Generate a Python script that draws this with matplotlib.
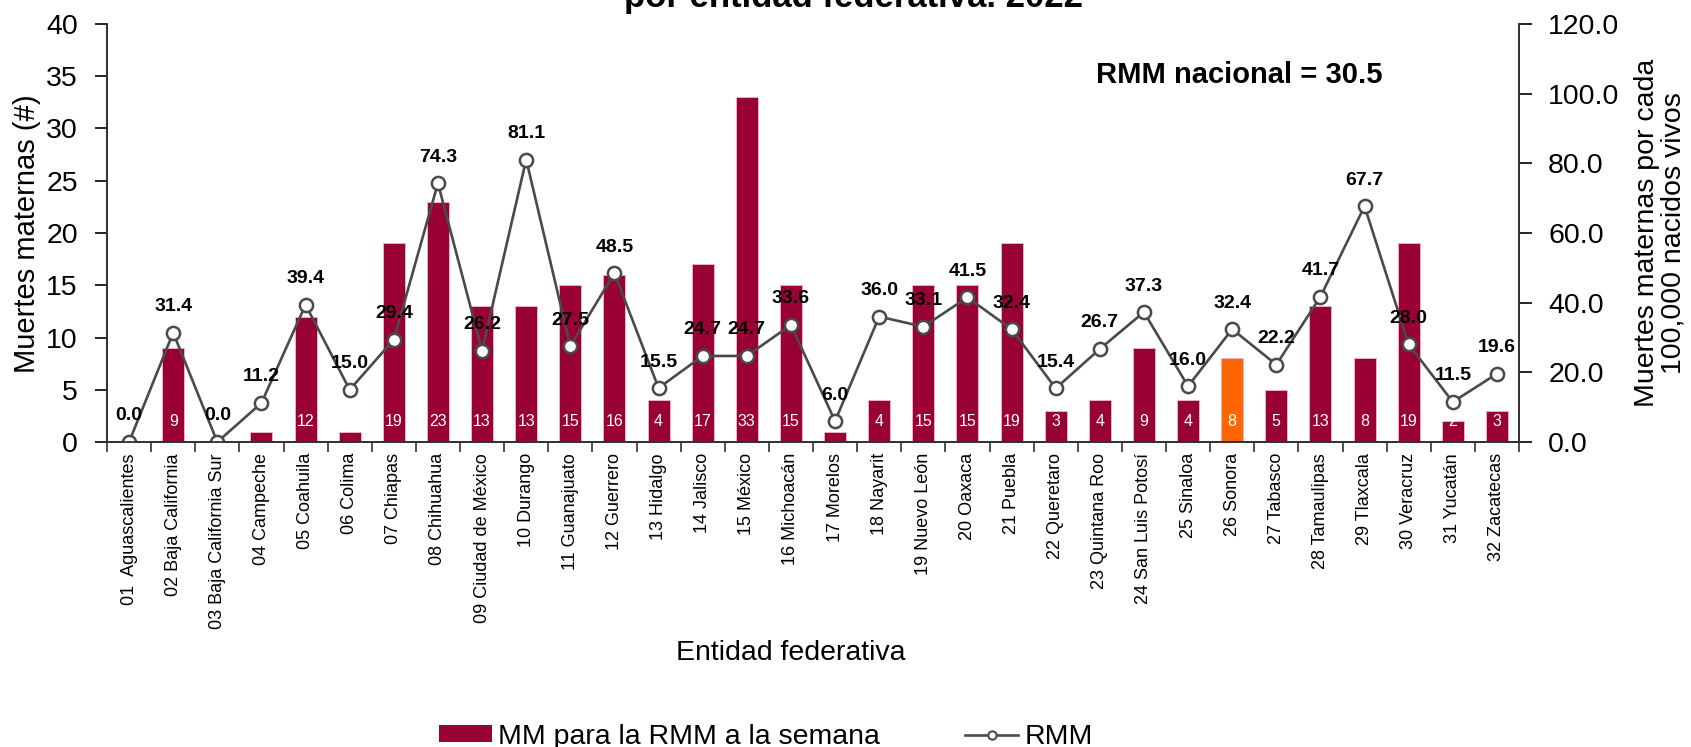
import numpy as np
import matplotlib
matplotlib.use("Agg")
import matplotlib.pyplot as plt
from matplotlib.patches import Patch
from matplotlib.lines import Line2D

plt.rcParams["font.family"] = ["Liberation Sans", "DejaVu Sans"]

STATES = ["01  Aguascalientes", "02 Baja California", "03 Baja California Sur",
          "04 Campeche", "05 Coahuila", "06 Colima", "07 Chiapas", "08 Chihuahua",
          "09 Ciudad de México", "10 Durango", "11 Guanajuato", "12 Guerrero",
          "13 Hidalgo", "14 Jalisco", "15 México", "16 Michoacán", "17 Morelos",
          "18 Nayarit", "19 Nuevo León", "20 Oaxaca", "21 Puebla", "22 Queretaro",
          "23 Quintana Roo", "24 San Luis Potosí", "25 Sinaloa", "26 Sonora",
          "27 Tabasco", "28 Tamaulipas", "29 Tlaxcala", "30 Veracruz",
          "31 Yucatán", "32 Zacatecas"]
DEATHS = [0, 9, 0, 1, 12, 1, 19, 23, 13, 13, 15, 16, 4, 17, 33, 15, 1, 4, 15, 15,
          19, 3, 4, 9, 4, 8, 5, 13, 8, 19, 2, 3]
RMM = [0.0, 31.4, 0.0, 11.2, 39.4, 15.0, 29.4, 74.3, 26.2, 81.1, 27.5, 48.5, 15.5,
       24.7, 24.7, 33.6, 6.0, 36.0, 33.1, 41.5, 32.4, 15.4, 26.7, 37.3, 16.0, 32.4,
       22.2, 41.7, 67.7, 28.0, 11.5, 19.6]
HIGHLIGHT = "26 Sonora"
RMM_NACIONAL = 30.5

BAR, ORANGE, LINE = "#990033", "#ff6600", "#4a4a4a"
W, H = 1691, 747

fig = plt.figure(figsize=(W / 100, H / 100), dpi=100)
ax = fig.add_axes([107 / W, 1 - 442 / H, (1519 - 107) / W, (442 - 24) / H])
ax2 = ax.twinx()

x = np.arange(len(STATES))
colors = [ORANGE if s == HIGHLIGHT else BAR for s in STATES]
ax.bar(x, DEATHS, 0.5, color=colors, edgecolor="#e7b3c2", linewidth=0.7)
for i, v in enumerate(DEATHS):
    if v >= 2:
        ax.annotate(str(v), (i, 0), xytext=(0, 20), textcoords="offset pixels",
                    ha="center", va="center", color="white", fontsize=11.5)

ax2.plot(x, RMM, "-o", color=LINE, lw=1.9, ms=9.5, mfc="white", mec=LINE, mew=1.8)
for i, v in enumerate(RMM):
    ax2.annotate(f"{v:.1f}", (i, v), xytext=(0, 26), textcoords="offset pixels",
                 ha="center", va="center", fontsize=14, fontweight="bold")

ax.set_xlim(-0.5, len(STATES) - 0.5)
ax.set_ylim(0, 40)
ax2.set_ylim(0, 120)
ax.set_yticks(np.arange(0, 41, 5))
ax2.set_yticks(np.arange(0, 121, 20))
ax2.set_yticklabels([f"{t:.1f}" for t in np.arange(0, 121, 20)])
ax.set_xticks(x)
ax.set_xticklabels(STATES, rotation=90, fontsize=13)
ax.set_xticks(np.arange(-0.5, len(STATES)), minor=True)
ax.tick_params(axis="x", which="major", length=0, pad=8)
ax.tick_params(axis="x", which="minor", length=7, width=1.2, color="#333333")
ax.tick_params(axis="y", labelsize=20.5, length=9, width=1.2, pad=12)
ax2.tick_params(axis="y", labelsize=20.5, length=9, width=1.2, pad=12)
for a in (ax, ax2):
    a.spines["top"].set_visible(False)
    for s in ("left", "right", "bottom"):
        a.spines[s].set_color("#333333")
        a.spines[s].set_linewidth(1.3)

ax.text(1383 / W, 1 - 75 / H, f"RMM nacional = {RMM_NACIONAL}",
        transform=fig.transFigure, ha="right", va="center",
        fontsize=21, fontweight="bold")

fig.text(854 / W, 1 - 7 / H, "por entidad federativa. 2022", ha="center",
         va="baseline", fontsize=25, fontweight="bold")
fig.text(27 / W, 1 - 234 / H, "Muertes maternas (#)", rotation=90,
         ha="center", va="center", fontsize=21)
fig.text(1660 / W, 1 - 233 / H, "Muertes maternas por cada\n100,000 nacidos vivos",
         rotation=90, ha="center", va="center", fontsize=20.5, linespacing=1.0,
         multialignment="center")
fig.text(791 / W, 1 - 660 / H, "Entidad federativa", ha="center",
         va="baseline", fontsize=20.5)

handles = [Patch(facecolor=BAR, label="MM para la RMM a la semana"),
           Line2D([], [], color=LINE, lw=1.9, marker="o", ms=6, mfc="white",
                  mec=LINE, mew=1.5, label="RMM")]
fig.legend(handles=handles, loc="lower left", bbox_to_anchor=(439 / W, -0.004),
           ncol=2, frameon=False, fontsize=20.5, handlelength=1.87,
           handleheight=0.55, handletextpad=0.2, columnspacing=3.0,
           borderpad=0, borderaxespad=0)

fig.savefig("out.png", dpi=100)
